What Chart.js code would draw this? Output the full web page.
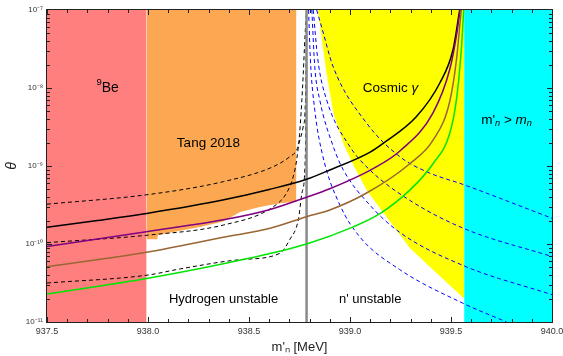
<!DOCTYPE html>
<html lang="en">
<head>
<meta charset="utf-8">
<title>theta vs m'n</title>
<style>
body { margin: 0; background: #fff; }
#wrap { width: 563px; height: 356px; }
</style>
</head>
<body>
<div id="wrap"><canvas id="plot"></canvas></div>

<script src="https://cdn.jsdelivr.net/npm/chart.js"></script>
<script>
// axis ticks
const xTicks = [937.5, 938.0, 938.5, 939.0, 939.5, 940.0];
const yDecades = [-11, -10, -9, -8, -7];

// excluded regions: [m'n (MeV), theta]
const beRegion = [[937.5, 1e-7], [937.993, 1e-7]];
const tangEdge = [[937.993, 1.15e-10], [938.045, 1.15e-10], [938.05, 1.30e-10], [938.126, 1.43e-10], [938.258, 1.65e-10],
  [938.373, 1.94e-10], [938.456, 2.57e-10], [938.554, 2.98e-10], [938.653, 3.33e-10], [938.735, 3.47e-10], [938.735, 1e-7]];
const cosmicEdge = [[938.841, 1e-7], [938.861, 4.12e-8], [938.885, 1.47e-8], [938.92, 4.5e-9], [938.97, 1.86e-9],
  [939.024, 9.4e-10], [939.083, 4.9e-10], [939.148, 2.9e-10], [939.296, 8.9e-11], [939.444, 3.9e-11],
  [939.565, 2.0e-11], [939.565, 1e-7]];
const heavyRegion = [[939.565, 1e-7], [940.0, 1e-7]];
const hydrogenLine = [[938.785, 1e-11], [938.785, 1e-7]];

// solid curves
const blackSolid = [[937.5, 1.64e-10], [937.75, 2.0e-10], [938.0, 2.48e-10], [938.37, 3.66e-10], [938.6, 5.0e-10],
  [938.785, 6.76e-10], [938.9, 8.9e-10], [939.1, 1.51e-9], [939.164, 1.95e-9], [939.328, 4.27e-9],
  [939.444, 1.15e-8], [939.51, 3.09e-8], [939.543, 1e-7]];
const purple = [[937.5, 9.3e-11], [938.0, 1.45e-10], [938.373, 2.04e-10], [938.6, 2.75e-10], [938.785, 3.98e-10],
  [938.9, 5.1e-10], [939.11, 9.1e-10], [939.25, 1.58e-9], [939.411, 4.8e-9], [939.494, 1.74e-8],
  [939.527, 4.7e-8], [939.545, 1e-7]];
const brown = [[937.5, 5.1e-11], [938.0, 7.9e-11], [938.373, 1.22e-10], [938.6, 1.58e-10], [938.785, 2.24e-10],
  [938.9, 2.73e-10], [939.08, 4.47e-10], [939.296, 1.07e-9], [939.411, 2.14e-9], [939.494, 6.76e-9],
  [939.527, 2.29e-8], [939.546, 7.4e-8], [939.551, 1e-7]];
const green = [[937.5, 2.29e-11], [938.0, 3.63e-11], [938.505, 6.6e-11], [938.785, 1e-10], [939.016, 1.66e-10],
  [939.148, 2.45e-10], [939.296, 4.9e-10], [939.411, 1.07e-9], [939.494, 2.63e-9], [939.527, 7.08e-9],
  [939.551, 3.09e-8], [939.563, 1e-7]];

// black dashed curves (left of the hydrogen line)
const dashUpper = [[937.5, 3.24e-10], [938.0, 4.3e-10], [938.373, 6.3e-10], [938.62, 9.8e-10], [938.703, 1.32e-9],
  [938.736, 1.6e-9], [938.752, 2.15e-9], [938.768, 3.16e-9], [938.777, 4.79e-9], [938.783, 2e-8], [938.785, 1e-7]];
const dashMid = [[937.5, 1.04e-10], [938.0, 1.30e-10], [938.373, 1.75e-10], [938.62, 3.0e-10], [938.686, 4.5e-10],
  [938.719, 7.3e-10], [938.736, 1.2e-9], [938.75, 2.51e-9], [938.765, 1e-8], [938.778, 5e-8], [938.785, 1e-7]];
const dashLower = [[937.5, 3.16e-11], [938.0, 4.0e-11], [938.16, 4.8e-11], [938.457, 6.3e-11], [938.653, 7.6e-11],
  [938.70, 1.12e-10], [938.745, 2.1e-10], [938.762, 4.5e-10], [938.777, 9.8e-10], [938.783, 1e-8], [938.785, 1e-7]];

// blue dashed curves (right of the hydrogen line)
const blue1 = [[938.835, 1e-7], [938.862, 5.75e-8], [938.917, 1.86e-8], [939.082, 3.55e-9], [939.246, 1.32e-9],
  [939.386, 8.3e-10], [939.564, 5.75e-10], [940.0, 2.14e-10]];
const blue2 = [[938.818, 1e-7], [938.841, 2.29e-8], [938.884, 7.08e-9], [938.999, 1.78e-9], [939.098, 8.9e-10],
  [939.296, 3.63e-10], [939.564, 1.58e-10], [940.0, 6.9e-11]];
const blue3 = [[938.811, 1e-7], [938.826, 1.82e-8], [938.85, 7.08e-9], [938.917, 1.78e-9], [938.967, 8.9e-10],
  [939.098, 3.16e-10], [939.246, 1.41e-10], [939.564, 5.25e-11], [940.0, 2.24e-11]];
const blue4 = [[938.795, 1e-7], [938.804, 2.29e-8], [938.826, 5.13e-9], [938.866, 1.32e-9], [938.95, 3.16e-10],
  [939.049, 1.23e-10], [939.246, 4.7e-11], [939.559, 1.74e-11], [939.775, 1e-11]];

// text labels placed in data coordinates
const notes = [
  { m: 937.8, th: 1e-8, size: 14, parts: [{ t: '9', sup: true }, { t: 'Be' }] },
  { m: 938.299, th: 1.95e-9, size: 13.5, parts: [{ t: 'Tang 2018' }] },
  { m: 939.2, th: 1e-8, size: 13.5, parts: [{ t: 'Cosmic ' }, { t: 'γ', it: true }] },
  { m: 939.775, th: 3.9e-9, size: 13.5, parts: [{ t: "m'" }, { t: 'n', sub: true, it: true }, { t: ' > ' }, { t: 'm', it: true }, { t: 'n', sub: true, it: true }] },
  { m: 938.374, th: 1.95e-11, size: 13, parts: [{ t: 'Hydrogen unstable' }] },
  { m: 939.1, th: 1.95e-11, size: 13, parts: [{ t: "n' unstable" }] }
];

const SUP = { '-': '⁻', '0': '⁰', '1': '¹', '2': '²', '3': '³', '4': '⁴', '5': '⁵', '6': '⁶', '7': '⁷', '8': '⁸', '9': '⁹' };
const sup = n => String(n).split('').map(c => SUP[c]).join('');
const pts = arr => arr.map(([x, y]) => ({ x, y }));

function curve(arr, color, width, dash, order) {
  return {
    data: pts(arr), showLine: true, borderColor: color, borderWidth: width, borderDash: dash,
    pointRadius: 0, fill: false, cubicInterpolationMode: 'monotone', order
  };
}
function region(arr, color, fill) {
  return {
    data: pts(arr), showLine: true, borderWidth: 0, borderColor: 'transparent', backgroundColor: color,
    fill, pointRadius: 0, tension: 0, order: 9
  };
}

function richText(ctx, parts, cx, cy, size) {
  const fontOf = p => (p.it ? 'italic ' : '') + ((p.sub || p.sup) ? size * 0.68 : size) + 'px "Liberation Sans"';
  let w = 0;
  for (const p of parts) { ctx.font = fontOf(p); w += ctx.measureText(p.t).width; }
  let xx = cx - w / 2;
  for (const p of parts) {
    ctx.font = fontOf(p);
    const dy = p.sub ? size * 0.3 : p.sup ? -size * 0.38 : 0;
    ctx.fillText(p.t, xx, cy + dy);
    xx += ctx.measureText(p.t).width;
  }
}

const framePlugin = {
  id: 'frame',
  afterDatasetsDraw(chart) {
    const { ctx, chartArea: a, scales: { x, y } } = chart;
    ctx.save();
    ctx.strokeStyle = '#222';
    ctx.lineWidth = 1;
    const seg = (x1, y1, x2, y2) => { ctx.beginPath(); ctx.moveTo(x1, y1); ctx.lineTo(x2, y2); ctx.stroke(); };
    // inward ticks, bottom and top
    for (let i = 0; i <= 25; i++) {
      const px = Math.round(x.getPixelForValue(937.5 + i * 0.1)) + 0.5;
      const len = i % 5 === 0 ? 5 : 3;
      seg(px, a.bottom, px, a.bottom - len);
      seg(px, a.top, px, a.top + len);
    }
    // inward ticks, left and right (log minors)
    for (let e = -11; e < -7; e++) {
      for (let k = 1; k < 10; k++) {
        const py = Math.round(y.getPixelForValue(k * Number('1e' + e))) + 0.5;
        const len = k === 1 ? 5 : 3;
        seg(a.left, py, a.left + len, py);
        seg(a.right, py, a.right - len, py);
      }
    }
    ctx.strokeRect(a.left - 0.5, a.top - 0.5, a.width + 1, a.height + 1);

    ctx.fillStyle = '#000';
    ctx.textBaseline = 'middle';
    ctx.textAlign = 'left';
    for (const n of notes) {
      richText(ctx, n.parts, x.getPixelForValue(n.m), y.getPixelForValue(n.th), n.size);
    }
    ctx.restore();
  }
};

Chart.defaults.font.family = '"Liberation Sans", Arial, sans-serif';

new Chart(document.getElementById('plot'), {
  type: 'scatter',
  data: {
    datasets: [
      region(beRegion, '#FF7F7F', 'start'),
      region(tangEdge, '#FCA852', 'end'),
      region(cosmicEdge, '#FFFF00', 'end'),
      region(heavyRegion, '#00FFFF', 'start'),
      curve(dashUpper, '#000', 1, [4, 3], 6),
      curve(dashMid, '#000', 1, [4, 3], 6),
      curve(dashLower, '#000', 1, [4, 3], 6),
      { data: pts(hydrogenLine), showLine: true, borderColor: '#8a8a8a', borderWidth: 2.5, pointRadius: 0, order: 5 },
      curve(blue1, '#0000FF', 1, [4, 3], 4),
      curve(blue2, '#0000FF', 1, [4, 3], 4),
      curve(blue3, '#0000FF', 1, [4, 3], 4),
      curve(blue4, '#0000FF', 1, [4, 3], 4),
      curve(green, '#00E600', 1.5, [], 2),
      curve(brown, '#996633', 1.5, [], 2),
      curve(purple, '#800080', 1.5, [], 2),
      curve(blackSolid, '#000', 1.5, [], 2)
    ]
  },
  options: {
    responsive: true,
    maintainAspectRatio: false,
    animation: false,
    layout: { padding: { top: 10, right: 11, left: 0, bottom: 0 } },
    plugins: { legend: { display: false }, tooltip: { enabled: false } },
    scales: {
      x: {
        type: 'linear', min: 937.5, max: 940.0,
        grid: { display: false, drawTicks: false },
        border: { display: false },
        afterBuildTicks: s => { s.ticks = xTicks.map(v => ({ value: v })); },
        afterFit: s => { s.height = 34; s.paddingLeft = 0; s.paddingRight = 0; },
        ticks: { autoSkip: false, maxRotation: 0, padding: 4, color: '#333', font: { size: 9 }, callback: v => Number(v).toFixed(1) },
        title: { display: true, text: "m'ₙ [MeV]", color: '#222', font: { size: 13 }, padding: { top: 0, bottom: 1 } }
      },
      y: {
        type: 'logarithmic', min: 1e-11, max: 1e-7,
        grid: { display: false, drawTicks: false },
        border: { display: false },
        afterBuildTicks: s => { s.ticks = yDecades.map(e => ({ value: Number('1e' + e) })); },
        afterFit: s => { s.width = 47; s.paddingTop = 0; s.paddingBottom = 0; },
        ticks: { autoSkip: false, padding: 4, color: '#333', font: { size: 8 }, callback: v => '10' + sup(Math.round(Math.log10(v))) },
        title: { display: true, text: 'θ', color: '#222', font: { size: 14, style: 'italic' } }
      }
    }
  },
  plugins: [framePlugin]
});
</script>
</body>
</html>
